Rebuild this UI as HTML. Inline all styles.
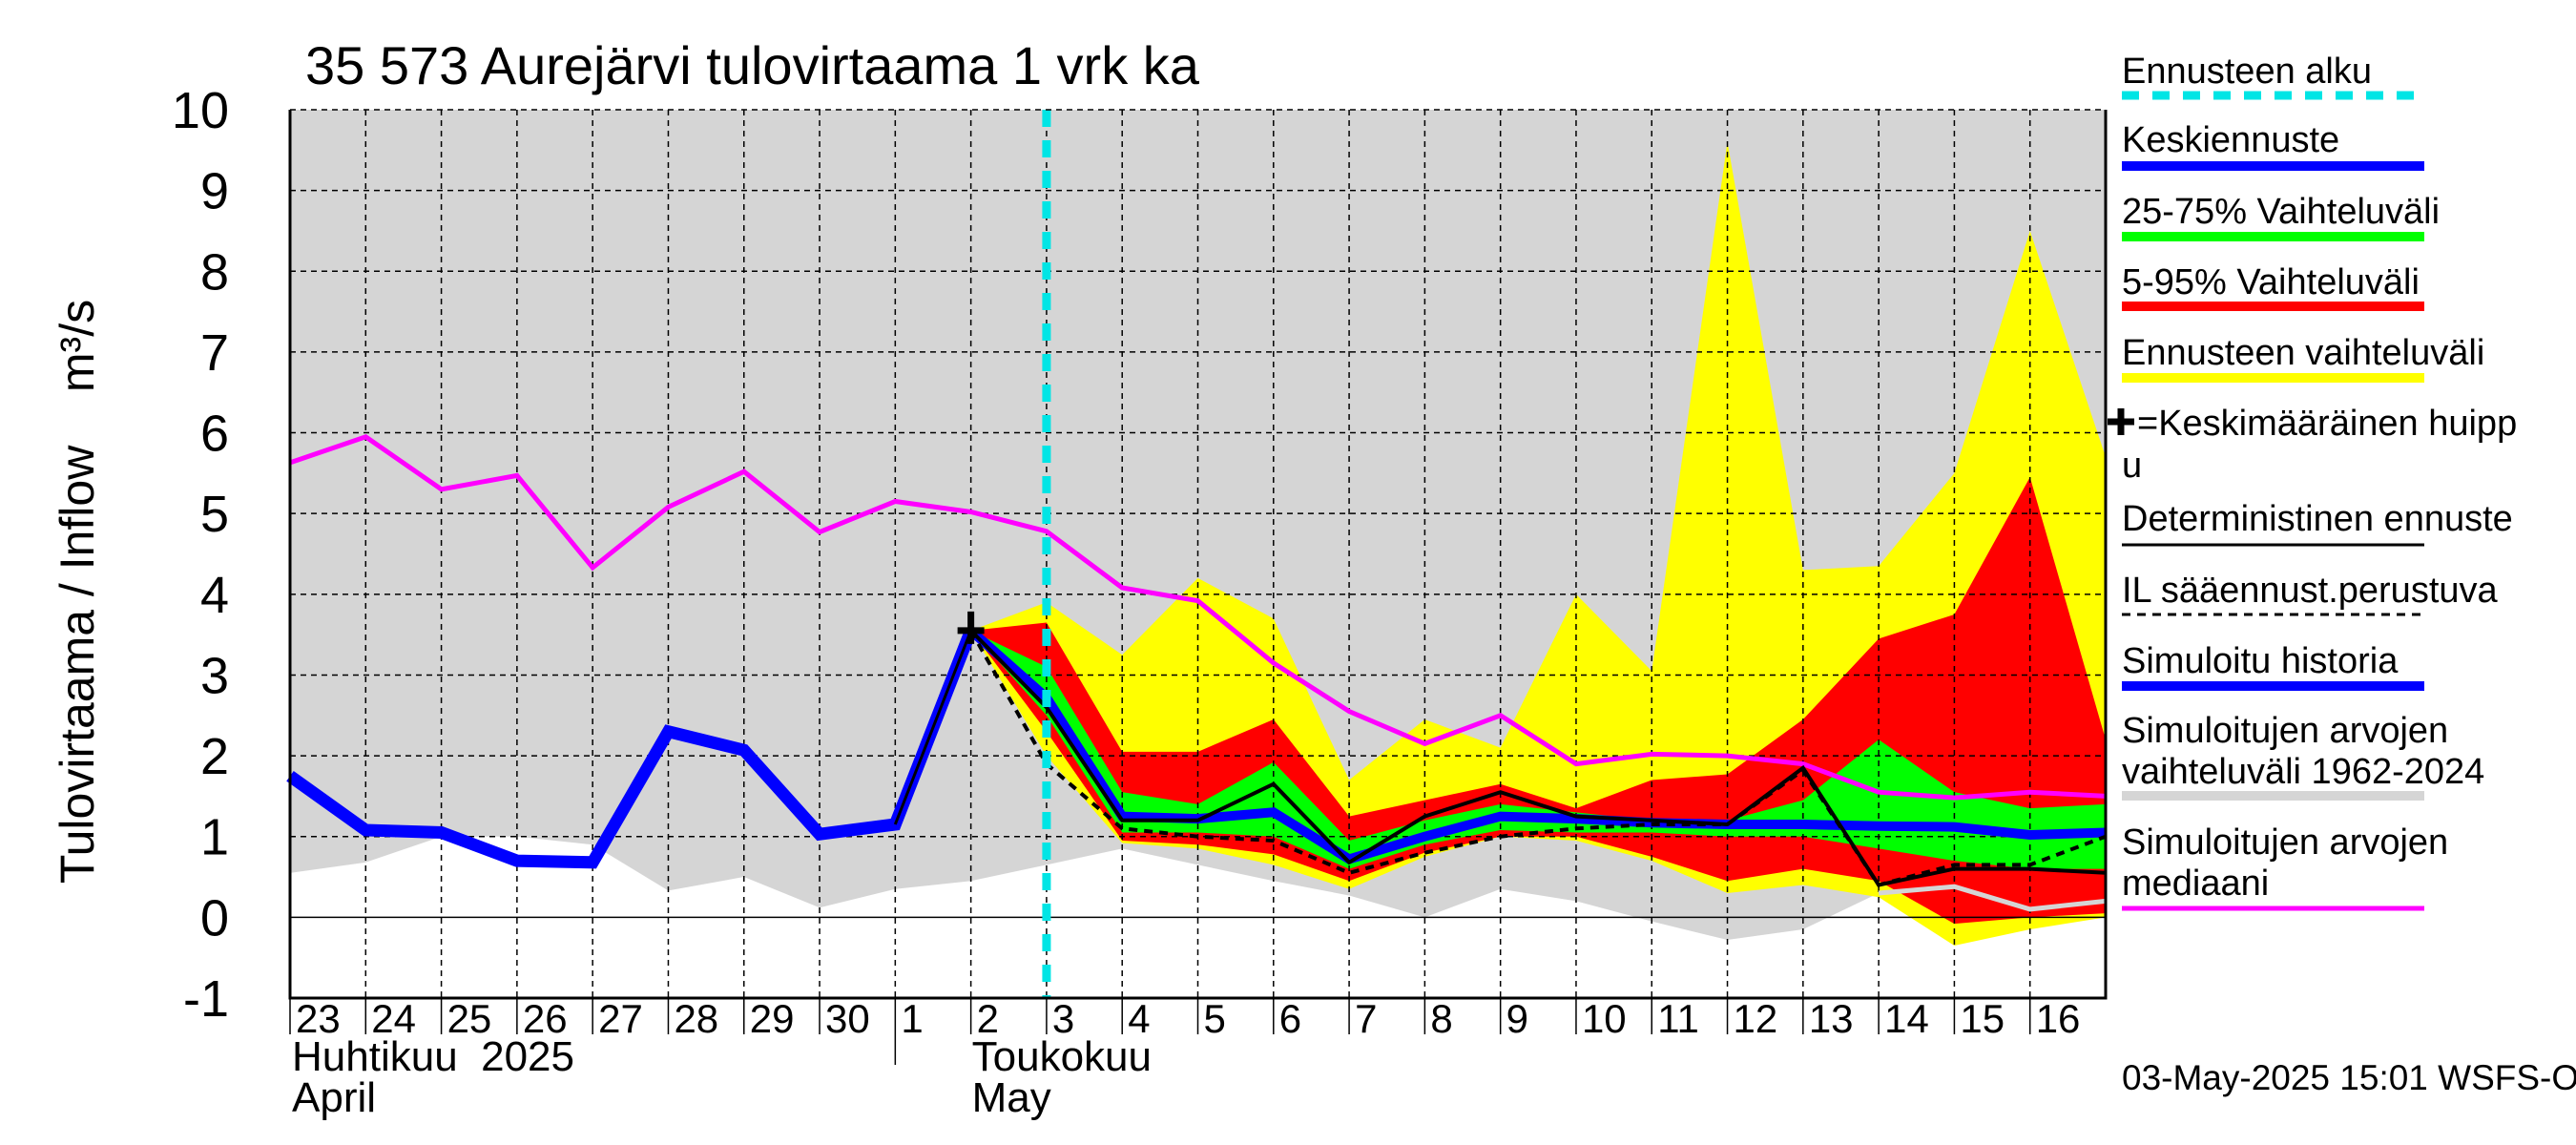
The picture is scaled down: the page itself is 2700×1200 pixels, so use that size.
<!DOCTYPE html>
<html><head><meta charset="utf-8"><style>
html,body{margin:0;padding:0;background:#fff}
svg{display:block}
text{font-family:"Liberation Sans",sans-serif;fill:#000;white-space:pre}
</style></head><body>
<svg id="chart" width="2700" height="1200" viewBox="0 0 2700 1200" xmlns="http://www.w3.org/2000/svg">
<text x="320" y="88" font-size="56">35 573 Aurejärvi tulovirtaama 1 vrk ka</text>
<g id="plot"></g>
<text transform="translate(98,620) rotate(-90)" text-anchor="middle" font-size="50" xml:space="preserve">Tulovirtaama / Inflow    m³/s</text>
<g id="legend"></g>
<text x="2224" y="1142" font-size="37">03-May-2025 15:01 WSFS-O</text>
</svg>
<script>
const dayLabels=["23","24","25","26","27","28","29","30","1","2","3","4","5","6","7","8","9","10","11","12","13","14","15","16"];
const yTicks=[-1,0,1,2,3,4,5,6,7,8,9,10];
const median=[5.63,5.95,5.3,5.47,4.33,5.08,5.52,4.77,5.15,5.02,4.78,4.08,3.92,3.15,2.55,2.15,2.5,1.9,2.02,2.0,1.9,1.55,1.48,1.55,1.5];
const simHist=[1.75,1.08,1.05,0.7,0.68,2.3,2.07,1.03,1.15,3.55];
const greyLow=[0.55,0.68,1.0,1.0,0.9,0.33,0.5,0.12,0.35,0.45,0.65,0.85,0.65,0.45,0.27,0.0,0.35,0.2,-0.05,-0.28,-0.15,0.3,0.38,0.1,0.2];
const fcStart=9;
const yelHi=[3.55,3.9,3.25,4.2,3.7,1.7,2.45,2.1,4.0,3.05,9.6,4.3,4.35,5.5,8.5,5.7];
const yelLo=[3.55,2.0,0.92,0.85,0.65,0.35,0.75,1.0,0.95,0.7,0.3,0.4,0.25,-0.35,-0.15,0.0];
const redHi=[3.55,3.65,2.05,2.05,2.45,1.25,1.45,1.65,1.35,1.7,1.77,2.45,3.45,3.75,5.45,2.2];
const redLo=[3.55,2.3,0.95,0.9,0.78,0.45,0.8,1.0,1.0,0.75,0.45,0.6,0.45,-0.08,0.0,0.05];
const grnHi=[3.55,3.1,1.55,1.4,1.92,0.95,1.2,1.4,1.3,1.2,1.2,1.45,2.2,1.55,1.35,1.4];
const grnLo=[3.55,2.5,1.05,1.05,1.0,0.6,0.9,1.08,1.05,1.05,1.0,1.0,0.85,0.7,0.6,0.6];
const meanFc=[3.55,2.72,1.25,1.22,1.3,0.72,1.0,1.25,1.22,1.17,1.15,1.15,1.13,1.12,1.02,1.05];
const determ=[3.55,2.6,1.2,1.2,1.65,0.68,1.25,1.55,1.25,1.2,1.15,1.85,0.4,0.6,0.6,0.55];
const ilFc=[3.55,1.9,1.1,1.0,0.95,0.55,0.8,1.0,1.1,1.15,1.15,1.82,0.4,0.65,0.65,1.0];
const forecastStartIdx=10;

const X0=304,X1=2207,Y0=1046,Y1=115,NX=24,YMIN=-1,YMAX=10;
const xs=i=>X0+(X1-X0)*i/NX;
const ys=v=>Y0-(Y0-Y1)*(v-YMIN)/(YMAX-YMIN);
const NS="http://www.w3.org/2000/svg";
const plot=document.getElementById('plot');
function mk(tag,attrs,parent){const e=document.createElementNS(NS,tag);for(const k in attrs)e.setAttribute(k,attrs[k]);(parent||plot).appendChild(e);return e;}
function pts(arr,off){return arr.map((v,i)=>xs(i+off).toFixed(1)+','+ys(v).toFixed(1)).join(' ');}
function band(hi,lo,off,fill,name){
  const p=hi.map((v,i)=>xs(i+off)+','+ys(v)).concat(lo.map((v,i)=>[i,v]).reverse().map(([i,v])=>xs(i+off)+','+ys(v))).join(' ');
  const e=mk('polygon',{points:p,fill:fill});
  
  
}
function line(arr,off,stroke,w,name,dash){
  const a={points:pts(arr,off),fill:'none',stroke:stroke,'stroke-width':w,'stroke-linejoin':'miter'};
  if(dash)a['stroke-dasharray']=dash;
  const e=mk('polyline',a);
  
  
}
{const p=[xs(0)+','+ys(YMAX),xs(NX)+','+ys(YMAX)].concat(greyLow.map((v,i)=>[i,v]).reverse().map(([i,v])=>xs(i)+','+ys(v))).join(' ');
 const e=mk('polygon',{points:p,fill:'#d5d5d5'});
 
 }
band(yelHi,yelLo,fcStart,'#ffff00','forecast-range-band');
band(redHi,redLo,fcStart,'#ff0000','band-5-95');
band(grnHi,grnLo,fcStart,'#00ff00','band-25-75');
for(let i=1;i<NX;i++){const g=mk('line',{x1:xs(i),x2:xs(i),y1:Y1,y2:Y0,stroke:'#000','stroke-width':1.5,'stroke-dasharray':'6,5'});
 
 }
yTicks.forEach(t=>{
 if(t>YMIN&&t<YMAX){const g=mk('line',{x1:X0,x2:X1,y1:ys(t),y2:ys(t),stroke:'#000','stroke-width':1.5,'stroke-dasharray':t===0?'':'6,5'});
  
  }
 const tl=mk('text',{x:240,y:ys(t)+19,'text-anchor':'end','font-size':54});tl.textContent=t;
 
 
});
line(greyLow.slice(21),21,'#d5d5d5',5,'simulated-range-lower-edge');
line(median,0,'#ff00ff',5,'median-line');
line(simHist,0,'#0000ff',13,'simulated-history-line');
line(meanFc,fcStart,'#0000ff',10,'mean-forecast-line');
line(determ,fcStart,'#000',4,'deterministic-forecast-line');
line(ilFc,fcStart,'#000',4,'il-forecast-line','9,7');
line([simHist[8],simHist[9]],8,'#000',3,'history-peak-line');
{const e=mk('line',{x1:xs(forecastStartIdx),x2:xs(forecastStartIdx),y1:Y1,y2:Y0,stroke:'#00e5e5','stroke-width':9,'stroke-dasharray':'18,14'});
 
 }
{const px=xs(fcStart),py=ys(simHist[9]);
 const e=mk('path',{d:`M${px-14},${py}H${px+14}M${px},${py-20}V${py+14}`,stroke:'#000','stroke-width':7});
 
 }
{const e=mk('path',{d:`M${X0},${Y1}V${Y0}H${X1}V${Y1}`,fill:'none',stroke:'#000','stroke-width':3});
 
 
 const t=mk('line',{x1:X0,x2:X1,y1:Y1,y2:Y1,stroke:'#000','stroke-width':1.5,'stroke-dasharray':'6,5'});
 
 }
dayLabels.forEach((d,i)=>{const t=mk('text',{x:xs(i)+6,y:1082,'font-size':42});t.textContent=d;
 
 
 const k=mk('line',{x1:xs(i),x2:xs(i),y1:Y0,y2:Y0+(i===8?70:38),stroke:'#000','stroke-width':1.5});
 
 });
[["Huhtikuu  2025",xs(0)+2,1122],["April",xs(0)+2,1165],["Toukokuu",xs(9)+1,1122],["May",xs(9)+1,1165]].forEach(([s,x,y])=>{
 const t=mk('text',{x:x,y:y,'font-size':44});t.textContent=s;
 
 });
const lg=document.getElementById('legend');
const LX=2224,LX2=2541;
function ltext(s,y,x){const t=mk('text',{x:x||LX,y:y+14,'font-size':38},lg);t.textContent=s;
 
 }
function lline(y,c,w,dash){const a={x1:LX,x2:LX2,y1:y,y2:y,stroke:c,'stroke-width':w};if(dash)a['stroke-dasharray']=dash;const e=mk('line',a,lg);
 
 }
ltext("Ennusteen alku",73);lline(100,'#00e5e5',9,'18,14');
ltext("Keskiennuste",145);lline(174,'#0000ff',10);
ltext("25-75% Vaihteluväli",220);lline(248,'#00ff00',10);
ltext("5-95% Vaihteluväli",294);lline(321,'#ff0000',10);
ltext("Ennusteen vaihteluväli",368);lline(396,'#ffff00',10);
ltext("=Keskimääräinen huipp",442,2240);ltext("u",486);
{const e=mk('path',{d:`M2209,442H2237M2223,428V456`,stroke:'#000','stroke-width':7},lg);
 
 }
ltext("Deterministinen ennuste",542);lline(571,'#000',3);
ltext("IL sääennust.perustuva",617);lline(644,'#000',3,'9,7');
ltext("Simuloitu historia",691);lline(719,'#0000ff',10);
ltext("Simuloitujen arvojen",764);ltext("vaihteluväli 1962-2024",807);lline(834,'#d5d5d5',10);
ltext("Simuloitujen arvojen",881);ltext("mediaani",924);lline(952,'#ff00ff',5);
</script>
</body></html>
